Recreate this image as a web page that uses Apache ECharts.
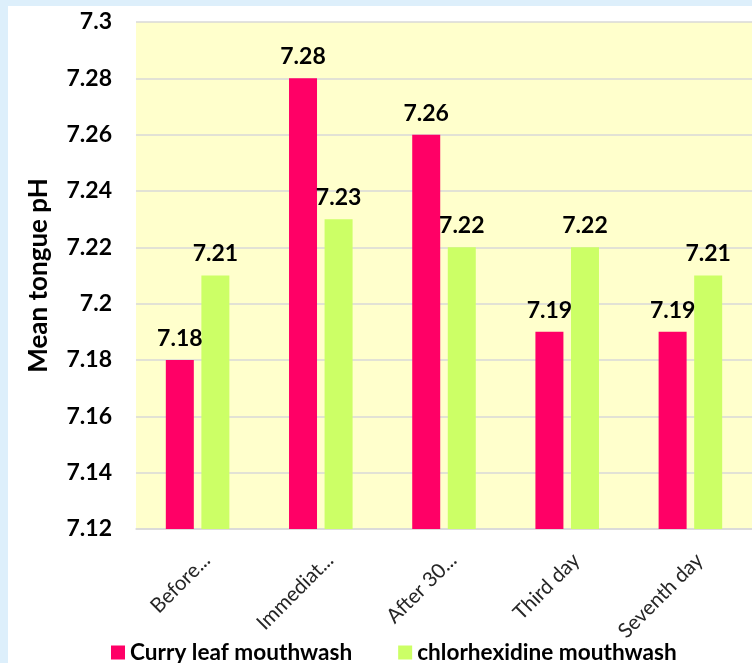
<!DOCTYPE html>
<html>
<head>
<meta charset="utf-8">
<script src="https://cdn.jsdelivr.net/npm/echarts@6/dist/echarts.min.js"></script>
<style>
  html, body { margin: 0; padding: 0; width: 752px; height: 663px; background: #DDEFFB; overflow: hidden; }
  #chart { position: absolute; left: 8px; top: 6px; width: 744px; height: 657px; background: #ffffff; }
</style>
</head>
<body>
<div id="chart"></div>
<script>
const categories = ['Before...', 'Immediat...', 'After 30...', 'Third day', 'Seventh day'];
const curryLeaf = [7.18, 7.28, 7.26, 7.19, 7.19];
const chlorhexidine = [7.21, 7.23, 7.22, 7.22, 7.21];
const seriesNames = ['Curry leaf mouthwash', 'chlorhexidine mouthwash'];
const yTicks = { min: 7.12, max: 7.3, interval: 0.02 };

const FONT = 'Lato, "Open Sans", "Liberation Sans", sans-serif';
const chart = echarts.init(document.getElementById('chart'), null, { renderer: 'canvas' });

const labelCfg = {
  show: true,
  position: 'top',
  distance: 10,
  fontFamily: FONT,
  fontWeight: 'bold',
  fontSize: 23,
  color: '#000000',
  formatter: p => p.value.toFixed(2)
};

chart.setOption({
  animation: false,
  textStyle: { fontFamily: FONT },
  grid: {
    left: 128, right: 0, top: 16, bottom: 134,
    show: true, backgroundColor: '#FFFFCC', borderWidth: 0
  },
  legend: {
    bottom: -1,
    left: 103,
    padding: 0,
    itemWidth: 14,
    itemHeight: 14,
    itemGap: 46,
    icon: 'rect',
    textStyle: { fontFamily: FONT, fontWeight: 'bold', fontSize: 22.6, color: '#000000' },
    data: seriesNames
  },
  xAxis: {
    type: 'category',
    data: categories,
    axisLine: { show: true, lineStyle: { color: '#D9D9D9', width: 1.5 } },
    axisTick: { show: false },
    axisLabel: {
      rotate: 45,
      interval: 0,
      margin: 37,
      padding: [0, -13, 0, 0],
      fontFamily: FONT,
      fontSize: 20.5,
      color: '#262626'
    }
  },
  yAxis: {
    type: 'value',
    min: yTicks.min,
    max: yTicks.max,
    interval: yTicks.interval,
    name: 'Mean tongue pH',
    nameLocation: 'middle',
    nameGap: 84,
    nameRotate: 90,
    nameTextStyle: { fontFamily: FONT, fontWeight: 'bold', fontSize: 26, color: '#000000' },
    axisLine: { show: false },
    axisTick: { show: false },
    axisLabel: {
      margin: 24,
      fontFamily: FONT,
      fontWeight: 'bold',
      fontSize: 23,
      color: '#000000',
      formatter: v => String(+v.toFixed(2))
    },
    splitLine: { show: true, lineStyle: { color: '#D9D9D9', width: 1.5 } }
  },
  series: [
    {
      name: seriesNames[0],
      type: 'bar',
      data: curryLeaf,
      barWidth: 28,
      barGap: '27%',
      itemStyle: { color: '#FF0066' },
      label: labelCfg
    },
    {
      name: seriesNames[1],
      type: 'bar',
      data: chlorhexidine,
      barWidth: 28,
      barGap: '27%',
      itemStyle: { color: '#CCFF66' },
      label: labelCfg
    }
  ]
});
</script>
</body>
</html>
